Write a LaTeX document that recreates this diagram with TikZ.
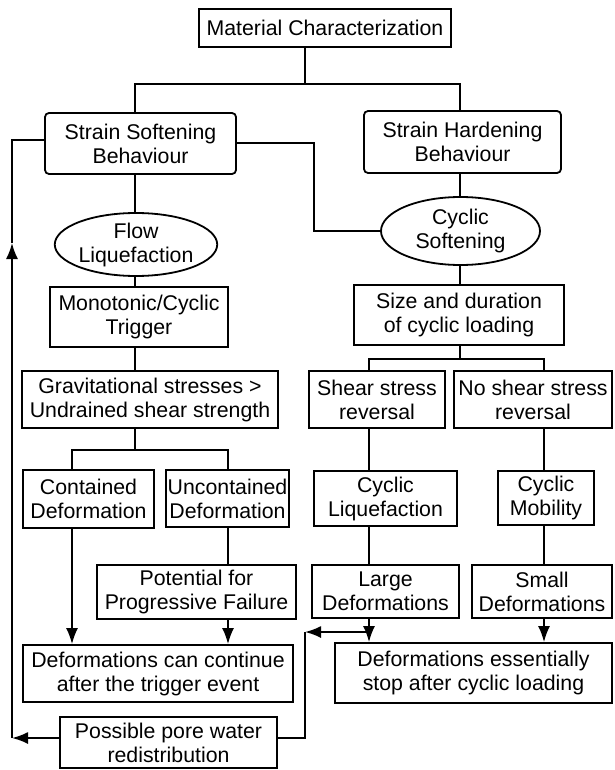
\documentclass[tikz,border=0pt]{standalone}
\usepackage{fontspec}
\setmainfont{Liberation Sans}
\usetikzlibrary{shapes.geometric,arrows.meta}

\begin{document}
\begin{tikzpicture}[>={Latex[length=16pt,width=12pt]},x=1pt,y=-1pt,
  line width=1.8pt,
  box node/.style={rectangle,draw,align=center,inner sep=0pt,
    font=\fontsize{21.3}{24}\selectfont},
  round node/.style={box node,rounded corners=4pt},
  oval node/.style={ellipse,draw,align=center,inner sep=0pt,
    font=\fontsize{21.3}{24}\selectfont},
  flow/.style={-{Latex[length=16pt,width=12pt]}}]

  \useasboundingbox (0,0) rectangle (614,770);

  \node[box node,minimum width=252pt,minimum height=38pt] (1) at (325,28) {Material Characterization};
  \node[round node,minimum width=191pt,minimum height=61pt] (2) at (140.5,143.5) {Strain Softening\\Behaviour};
  \node[round node,minimum width=197pt,minimum height=62pt] (3) at (462.5,142) {Strain Hardening\\Behaviour};
  \node[oval node,minimum width=162pt,minimum height=63pt] (4) at (136,244.5) {Flow\\Liquefaction};
  \node[oval node,minimum width=159pt,minimum height=68pt] (5) at (460.5,231) {Cyclic\\Softening};
  \node[box node,minimum width=178pt,minimum height=60pt] (6) at (139,317) {Monotonic/Cyclic\\Trigger};
  \node[box node,minimum width=210pt,minimum height=60pt] (7) at (459,315) {Size and duration\\of cyclic loading};
  \node[box node,minimum width=256pt,minimum height=57pt] (8) at (150,399.5) {Gravitational stresses >\\Undrained shear strength};
  \node[box node,minimum width=136pt,minimum height=57pt] (9) at (377,399.5) {Shear stress\\reversal};
  \node[box node,minimum width=158pt,minimum height=57pt] (10) at (533,399.5) {No shear stress\\reversal};
  \node[box node,minimum width=131pt,minimum height=58pt] (11) at (88.5,499) {Contained\\Deformation};
  \node[box node,minimum width=123pt,minimum height=57pt] (12) at (227.5,498.5) {Uncontained\\Deformation};
  \node[box node,minimum width=143pt,minimum height=55pt] (13) at (385.5,498.5) {Cyclic\\Liquefaction};
  \node[box node,minimum width=96pt,minimum height=54pt] (14) at (546,498) {Cyclic\\Mobility};
  \node[box node,minimum width=199pt,minimum height=54pt] (15) at (196.5,592) {Potential for\\Progressive Failure};
  \node[box node,minimum width=147pt,minimum height=53pt] (16) at (385.5,591.5) {Large\\Deformations};
  \node[box node,minimum width=140pt,minimum height=53pt] (17) at (542,591.5) {Small\\Deformations};
  \node[box node,minimum width=270pt,minimum height=57pt] (18) at (158,673.5) {Deformations can continue\\after the trigger event};
  \node[box node,minimum width=277pt,minimum height=60pt] (19) at (473.5,673) {Deformations essentially\\stop after cyclic loading};
  \node[box node,minimum width=217pt,minimum height=51pt] (20) at (168.5,742.5) {Possible pore water\\redistribution};

  \coordinate (j1) at (305,84);
  \coordinate (j1l) at (135,84);
  \coordinate (j1r) at (460,84);
  \coordinate (j2) at (135,450);
  \coordinate (j2l) at (72,450);
  \coordinate (j2r) at (228,450);
  \coordinate (j3) at (460,359);
  \coordinate (j3l) at (369,359);
  \coordinate (j3r) at (544,359);
  \coordinate (k1) at (314,143);
  \coordinate (k2) at (314,231);
  \coordinate (l1) at (12,140);
  \coordinate (l2) at (12,243);
  \coordinate (l3) at (12,738);
  \coordinate (m1) at (305,738);
  \coordinate (m2) at (305,632);
  \coordinate (m3) at (369,632);

  \draw (1.south -| j1) -- (j1);
  \draw (2.north -| j1l) -- (j1l) -- (j1r) -- (3.north -| j1r);
  \path[draw]
    (2.south -| j1l) edge (4.north -| j1l)
    (4.south -| j1l) edge (6.north -| j1l)
    (6.south -| j1l) edge (8.north -| j1l)
    (8.south -| j2) edge (j2)
    (12.south -| j2r) edge (15.north -| j2r)
    (3.south -| j1r) edge (5.north -| j1r)
    (5.south -| j1r) edge (7.north -| j1r)
    (7.south -| j3) edge (j3)
    (9.south -| j3l) edge (13.north -| j3l)
    (13.south -| j3l) edge (16.north -| j3l)
    (10.south -| j3r) edge (14.north -| j3r)
    (14.south -| j3r) edge (17.north -| j3r)
    (11.south -| j2l) edge[flow] (18.north -| j2l)
    (15.south -| j2r) edge[flow] (18.north -| j2r)
    (16.south -| j3l) edge[flow] (19.north -| j3l)
    (17.south -| j3r) edge[flow] (19.north -| j3r);
  \draw (11.north -| j2l) -- (j2l) -- (j2r) -- (12.north -| j2r);
  \draw (9.north -| j3l) -- (j3l) -- (j3r) -- (10.north -| j3r);
  \draw (2.east |- k1) -- (k1) -- (k2) -- (5.west);
  \draw[flow] (20.west |- l3) -- (l3);
  \draw[flow] (l3) -- (l2);
  \draw (l2) -- (l1) -- (2.west |- l1);
  \draw (20.east |- m1) -- (m1) -- (m2);
  \draw[flow] (m3) -- (m2);
\end{tikzpicture}
\end{document}
